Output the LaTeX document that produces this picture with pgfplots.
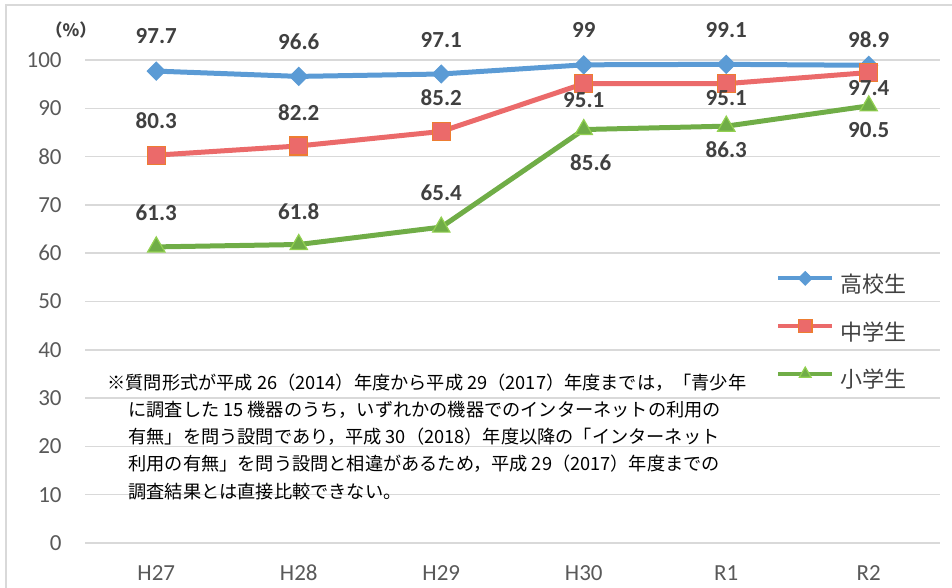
\documentclass[border=0pt]{standalone}
\usepackage{pgfplots}
\pgfplotsset{compat=1.18}
\usepackage{pgfplotstable}
\usepackage{fontspec}
\setmainfont{Carlito}
\newfontfamily\jp{Noto Sans CJK JP}
\definecolor{cblue}{HTML}{5B9BD5}
\definecolor{cred}{HTML}{EB6A6A}
\definecolor{corange}{HTML}{ED7D31}
\definecolor{cgreen}{HTML}{70AD47}
\definecolor{clgreen}{HTML}{92D050}
\definecolor{gridc}{HTML}{D9D9D9}
\definecolor{tickc}{HTML}{595959}
\definecolor{labc}{HTML}{404040}

\pgfplotstableread{
x y lab dy dx
0 97.7 97.7 17.5 0
1 96.6 96.6 17.5 0
2 97.1 97.1 17.2 0
3 99 99 17.4 0
4 99.1 99.1 17.3 0
5 98.9 98.9 12.6 0
}\high
\pgfplotstableread{
x y lab dy dx
0 80.3 80.3 17 0
1 82.2 82.2 16.8 0
2 85.2 85.2 17 0
3 95.1 95.1 -8.2 0
4 95.1 95.1 -7.2 0
5 97.4 97.4 -7.9 0
}\mid
\pgfplotstableread{
x y lab dy dx
0 61.3 61.3 16.9 0
1 61.8 61.8 16.5 0
2 65.4 65.4 17 0
3 85.6 85.6 -16.8 3.5
4 86.3 86.3 -11.9 0
5 90.5 90.5 -12 0
}\elem

\begin{document}
\begin{tikzpicture}
\useasboundingbox (0,0) rectangle (476pt,294pt);
\draw[gridc, line width=0.75pt] (3pt,-5pt) -- (3pt,291.5pt) -- (490pt,291.5pt);
\begin{axis}[
  at={(42.5pt,22.5pt)}, anchor=south west, scale only axis,
  width=427.5pt, height=241.5pt,
  xmin=-0.5, xmax=5.5, ymin=0, ymax=100,
  ytick={0,10,...,100}, xtick={0,...,5},
  xticklabels={H27,H28,H29,H30,R1,R2},
  axis line style={draw=none}, major tick length=0pt,
  ymajorgrids, grid style={gridc, line width=0.75pt},
  tick label style={font=\fontsize{11.5}{13}\selectfont, text=tickc},
  yticklabel style={anchor=east, inner sep=0pt, xshift=-11.5pt},
  xticklabel style={anchor=base, inner sep=0pt, yshift=-18.9pt},
  /pgf/number format/assume math mode=true,
  clip=false,
  nodes near coords={\pgfplotspointmeta},
  point meta=explicit symbolic,
  visualization depends on={\thisrow{dy} \as \dy},
  visualization depends on={\thisrow{dx} \as \dx},
  nodes near coords style={anchor=center, xshift=\dx pt, yshift=\dy pt,
    font=\bfseries\fontsize{11.5}{13}\selectfont, text=labc, inner sep=0pt},
  legend style={draw=none, fill=none, at={(0.808,0.563)}, anchor=north west,
    inner sep=0pt, row sep=9.5pt, column sep=2pt,
    nodes={inner sep=1pt, text height=9pt, text depth=3pt},
    font=\jp\fontsize{11}{13}\selectfont, text=labc},
  legend cell align=left,
  legend image code/.code={\draw[mark repeat=2,mark phase=2,#1,line width=2pt,mark size=3.4pt] plot coordinates {(0pt,4pt)(13.5pt,4pt)(27pt,4pt)};},
]
\addplot[cblue, line width=2.5pt, mark=diamond*, mark size=4.5pt,
  mark options={xscale=1.33, fill=cblue, draw=cblue, line width=0.5pt}]
  table[x=x, y=y, meta=lab] {\high};
\addlegendentry{高校生}
\addplot[cred, line width=2.5pt, mark=square*, mark size=4.5pt,
  mark options={fill=cred, draw=corange, line width=0.6pt}]
  table[x=x, y=y, meta=lab] {\mid};
\addlegendentry{中学生}
\addplot[cgreen, line width=2.5pt, mark=triangle*, mark size=5pt,
  mark options={fill=cgreen, draw=clgreen, line width=0.6pt}]
  table[x=x, y=y, meta=lab] {\elem};
\addlegendentry{小学生}
\end{axis}
\node[font=\jp\bfseries\fontsize{8.5}{10}\selectfont, text=labc] at (35.5pt,279pt) {（\%）};
\begin{scope}[every node/.style={anchor=base west, inner sep=0pt, font=\jp\fontsize{9.1}{11}\selectfont, text=black}]
\node at (53.5pt,99.2pt) {※質問形式が平成 26（2014）年度から平成 29（2017）年度までは，「青少年};
\node at (64pt,85.7pt) {に調査した 15 機器のうち，いずれかの機器でのインターネットの利用の};
\node at (64pt,72.2pt) {有無」を問う設問であり，平成 30（2018）年度以降の「インターネット};
\node at (64pt,58.7pt) {利用の有無」を問う設問と相違があるため，平成 29（2017）年度までの};
\node at (64pt,44.7pt) {調査結果とは直接比較できない。};
\end{scope}
\end{tikzpicture}
\end{document}
